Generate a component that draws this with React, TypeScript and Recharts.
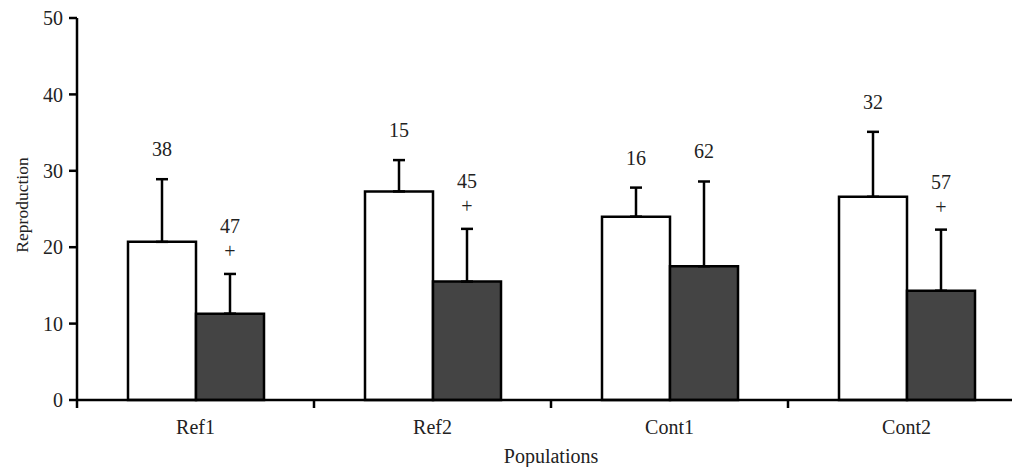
import React from 'react';
import { BarChart, Bar, XAxis, YAxis, ErrorBar, LabelList } from 'recharts';

const categories = ['Ref1', 'Ref2', 'Cont1', 'Cont2'];
const whiteMeans = [20.7, 27.3, 24.0, 26.6];
const whiteErrs = [8.2, 4.1, 3.8, 8.5];
const darkMeans = [11.3, 15.5, 17.5, 14.3];
const darkErrs = [5.2, 6.9, 11.1, 8.0];
const whiteN = ['38', '15', '16', '32'];
const darkN = ['47', '45', '62', '57'];
const darkPlus = [true, true, false, true];
const yTicks = [0, 10, 20, 30, 40, 50];

const data = categories.map((c, i) => ({
  cat: c,
  white: whiteMeans[i],
  whiteErr: [0, whiteErrs[i]],
  dark: darkMeans[i],
  darkErr: [0, darkErrs[i]],
}));

const FONT = "'Liberation Serif', 'DejaVu Serif', 'Times New Roman', serif";
const TXT = '#222';
const CHART_W = 1030;
const Y_W = 77;
const M_RIGHT = 5;
const HALF_BAND = (CHART_W - Y_W - M_RIGHT) / categories.length / 2;

const XTick = (props: any) => {
  const { x, y, payload, index } = props;
  const half = payload && typeof payload.offset === 'number' && payload.offset > 0 ? payload.offset : HALF_BAND;
  return (
    <g>
      {index === 0 && <line x1={x - half} y1={y} x2={x - half} y2={y + 8} stroke="#000" strokeWidth={2.5} />}
      {index < categories.length - 1 && (
        <line x1={x + half} y1={y} x2={x + half} y2={y + 8} stroke="#000" strokeWidth={2.5} />
      )}
      <text x={x} y={y + 34} textAnchor="middle" fontSize={20} fontFamily={FONT} fill={TXT}>
        {payload.value}
      </text>
    </g>
  );
};

const makeLabel = (means: number[], errs: number[], counts: string[], plus: boolean[] | null) => (props: any) => {
  const { x, y, width, height, index } = props;
  const pxPerUnit = height / means[index];
  const cap = y - errs[index] * pxPerUnit;
  const cx = x + width / 2;
  const hasPlus = plus ? plus[index] : false;
  return (
    <g>
      <text x={cx} y={hasPlus ? cap - 40.5 : cap - 23} textAnchor="middle" fontSize={20} fontFamily={FONT} fill={TXT}>
        {counts[index]}
      </text>
      {hasPlus && (
        <text x={cx} y={cap - 16} textAnchor="middle" fontSize={20} fontFamily={FONT} fill={TXT}>
          +
        </text>
      )}
    </g>
  );
};

export default function App() {
  return (
    <div style={{ position: 'fixed', left: 0, top: 0, width: 1012, height: 467, overflow: 'hidden', background: '#fff' }}>
      <BarChart
        width={CHART_W}
        height={467}
        data={data}
        margin={{ top: 18, right: M_RIGHT, left: 0, bottom: 0 }}
        barGap={0}
      >
        <XAxis
          dataKey="cat"
          height={67}
          axisLine={{ stroke: '#000', strokeWidth: 2.5 }}
          tickLine={false}
          tickSize={0}
          tickMargin={0}
          tick={<XTick />}
          interval={0}
          label={(p: any) => {
            const vb = p.viewBox || { x: Y_W, y: 400, width: CHART_W - Y_W - M_RIGHT, height: 67 };
            return (
              <text x={vb.x + vb.width / 2} y={vb.y + 63} textAnchor="middle" fontSize={20} fontFamily={FONT} fill={TXT}>
                Populations
              </text>
            );
          }}
        />
        <YAxis
          domain={[0, 50]}
          ticks={yTicks}
          width={Y_W}
          axisLine={{ stroke: '#000', strokeWidth: 2.5 }}
          tickLine={{ stroke: '#000', strokeWidth: 2.5 }}
          tickSize={8}
          tickMargin={6}
          tick={{ fontSize: 20, fontFamily: FONT, fill: TXT }}
          label={(p: any) => {
            const vb = p.viewBox || { x: 0, y: 18, width: Y_W, height: 382 };
            const lx = vb.x + 22;
            const ly = vb.y + vb.height / 2 - 4;
            return (
              <text x={lx} y={ly} transform={`rotate(-90, ${lx}, ${ly})`} textAnchor="middle" dominantBaseline="central" fontSize={17.5} fontFamily={FONT} fill={TXT}>
                Reproduction
              </text>
            );
          }}
        />
        <Bar dataKey="white" fill="#ffffff" stroke="#000" strokeWidth={2.5} barSize={68} isAnimationActive={false}>
          <ErrorBar dataKey="whiteErr" width={6} stroke="#000" strokeWidth={2.5} direction="y" />
          <LabelList dataKey="white" content={makeLabel(whiteMeans, whiteErrs, whiteN, null)} />
        </Bar>
        <Bar dataKey="dark" fill="#444444" stroke="#000" strokeWidth={2.5} barSize={68} isAnimationActive={false}>
          <ErrorBar dataKey="darkErr" width={6} stroke="#000" strokeWidth={2.5} direction="y" />
          <LabelList dataKey="dark" content={makeLabel(darkMeans, darkErrs, darkN, darkPlus)} />
        </Bar>
      </BarChart>
    </div>
  );
}
